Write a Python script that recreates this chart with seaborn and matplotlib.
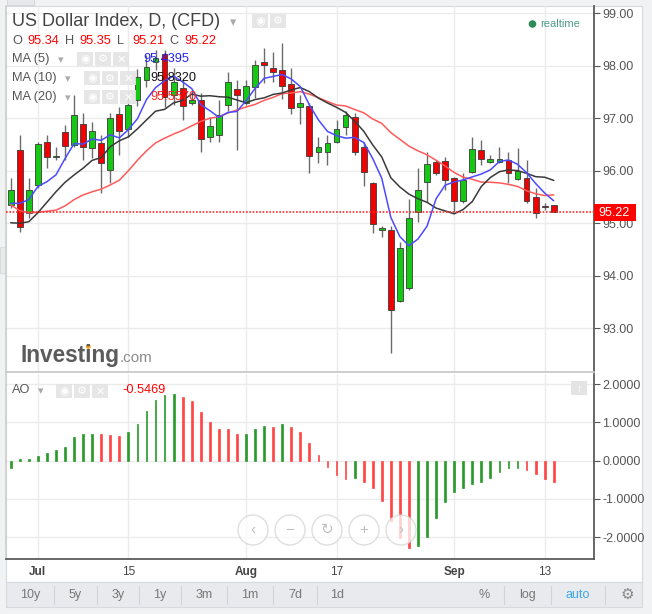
import numpy as np
import pandas as pd
import matplotlib
matplotlib.use("Agg")
import matplotlib.pyplot as plt
from matplotlib.patches import Rectangle, Circle
import seaborn as sns

sns.set_theme(style="white")
plt.rcParams["font.family"] = ["Liberation Sans", "DejaVu Sans"]
plt.rcParams["axes.unicode_minus"] = False

# %%
# --- values: US Dollar Index CFD, daily, late Jun -> mid Sep 2015 ---
opens = [95.35, 96.40, 95.19, 95.72, 96.55, 96.26, 96.74, 96.49, 96.89, 96.43,
         96.53, 96.02, 97.08, 96.79, 97.34, 97.73, 98.08, 98.22, 97.44, 97.57,
         97.30, 97.35, 96.65, 96.68, 97.25, 97.55, 97.29, 97.60, 98.08, 97.95,
         97.92, 97.65, 97.22, 97.23, 96.35, 96.35, 96.55, 96.83, 97.03, 96.46,
         95.77, 94.88, 94.87, 93.51, 93.76, 95.21, 95.78, 96.16, 96.18, 95.87,
         95.42, 95.98, 96.40, 96.17, 96.17, 96.21, 95.84, 95.87, 95.51, 95.33,
         95.34]
highs = [95.86, 96.68, 95.86, 96.55, 96.68, 96.46, 96.87, 97.44, 97.10, 96.93,
         96.68, 97.10, 97.21, 97.42, 97.93, 98.21, 98.30, 98.30, 97.95, 97.73,
         97.54, 97.48, 97.03, 97.35, 97.89, 97.73, 97.73, 98.11, 98.33, 98.27,
         98.43, 97.95, 97.44, 97.29, 96.65, 96.68, 96.97, 97.13, 97.10, 96.55,
         95.79, 94.94, 94.94, 94.65, 95.46, 96.05, 96.36, 96.21, 96.27, 95.89,
         95.95, 96.65, 96.59, 96.30, 96.46, 96.36, 96.43, 96.21, 95.67, 95.39,
         95.35]
lows = [95.29, 94.84, 95.10, 95.68, 96.05, 96.21, 96.21, 96.46, 96.21, 96.24,
        95.57, 95.76, 96.30, 96.65, 97.23, 97.60, 97.92, 97.22, 97.25, 96.97,
        97.25, 96.36, 96.55, 96.55, 97.13, 96.40, 97.25, 97.38, 97.67, 97.70,
        97.36, 97.08, 96.90, 95.95, 96.14, 96.11, 96.52, 96.68, 96.30, 95.71,
        94.81, 94.73, 92.52, 93.50, 93.73, 95.03, 95.41, 95.92, 95.63, 95.22,
        95.39, 95.95, 96.11, 96.15, 96.14, 95.76, 95.83, 95.38, 95.11, 95.25,
        95.21]
closes = [95.63, 94.92, 95.63, 96.51, 96.27, 96.28, 96.47, 97.06, 96.46, 96.76,
          96.15, 97.00, 96.76, 97.25, 97.79, 97.98, 98.14, 97.41, 97.70, 97.23,
          97.35, 96.60, 96.85, 97.06, 97.70, 97.44, 97.62, 98.02, 98.02, 97.89,
          97.62, 97.19, 97.30, 96.28, 96.46, 96.52, 96.79, 97.06, 96.35, 95.98,
          94.99, 94.90, 93.34, 94.52, 95.11, 95.63, 96.12, 95.95, 95.82, 95.42,
          95.82, 96.41, 96.22, 96.22, 96.22, 95.96, 96.00, 95.42, 95.19, 95.31,
          95.22]

# start of each MA line, where its window reaches back before the first candle
ma5_head = [95.38, 95.38, 95.45, 95.70]
ma10_head = [95.01, 95.00, 95.03, 95.20, 95.40, 95.60, 95.78, 95.92, 96.05]
ma20_head = [95.35, 95.24, 95.20, 95.21, 95.23, 95.25, 95.33, 95.45, 95.54, 95.60,
             95.65, 95.73, 95.82, 96.00, 96.20, 96.38, 96.53, 96.62, 96.70]

# awesome oscillator histogram
ao = [-0.20, 0.04, 0.04, 0.11, 0.19, 0.28, 0.37, 0.63, 0.71, 0.71,
      0.69, 0.68, 0.65, 0.74, 0.95, 1.30, 1.58, 1.71, 1.75, 1.66,
      1.56, 1.26, 1.00, 0.83, 0.82, 0.69, 0.71, 0.83, 0.91, 0.88,
      0.95, 0.89, 0.74, 0.45, 0.15, -0.17, -0.37, -0.49, -0.46, -0.55,
      -0.72, -1.04, -1.57, -2.01, -2.29, -2.22, -1.98, -1.50, -1.09, -0.83,
      -0.72, -0.60, -0.55, -0.46, -0.29, -0.20, -0.19, -0.24, -0.35, -0.49,
      -0.5469]

date_ticks = [3, 13, 26, 36, 49, 59]
date_labels = ["Jul", "15", "Aug", "17", "Sep", "13"]
price_ticks = [93, 94, 95, 96, 97, 98, 99]
ao_ticks = [-2, -1, 0, 1, 2]
ma_last = {"5": "95.4395", "10": "95.8320", "20": "95.5570"}

# %%
df = pd.DataFrame({"open": opens, "high": highs, "low": lows, "close": closes, "ao": ao})
df["i"] = np.arange(len(df))
for n, head in [(5, ma5_head), (10, ma10_head), (20, ma20_head)]:
    col = f"ma{n}"
    df[col] = df["close"].rolling(n).mean()
    df.loc[:len(head) - 1, col] = head

# %%
W, H = 652, 614
fig = plt.figure(figsize=(W / 100, H / 100), dpi=100, facecolor="#f1f2f4")


def px_rect(l, t, r, b):
    return [l / W, 1 - b / H, (r - l) / W, (b - t) / H]


bg = fig.add_axes([0, 0, 1, 1])
bg.set_xlim(0, W)
bg.set_ylim(H, 0)
bg.axis("off")
bg.add_patch(Rectangle((6, 6), 636, 576, fc="white", ec="#d6d9dd", lw=0.8))
bg.add_patch(Rectangle((6, 582), 636, 25, fc="#e8eaed", ec="#d6d9dd", lw=0.8))
bg.add_patch(Rectangle((0, 247), 6, 26, fc="#e9eaec", ec="#d6d9dd", lw=0.6))
bg.add_patch(Rectangle((7, -2), 27, 7, fc="#e6e8eb", ec="#d0d3d8", lw=0.6))

ax = fig.add_axes(px_rect(6, 6, 594, 372))
ax_ao = fig.add_axes(px_rect(6, 374, 594, 559))
for a in (ax, ax_ao):
    a.set_facecolor("none")

# --- candles ---
up = df["close"] >= df["open"]
body_lo = df[["open", "close"]].min(axis=1)
body_h = (df["close"] - df["open"]).abs().clip(lower=0.025)
ax.vlines(df["i"], df["low"], df["high"], color="#6b6b6b", lw=1, zorder=2)
ax.bar(df["i"], body_h, bottom=body_lo, width=0.64,
       color=np.where(up, "#14c814", "#f00000"), edgecolor="#3a3a3a",
       linewidth=0.6, zorder=3)

# --- moving averages ---
sns.lineplot(data=df, x="i", y="ma20", ax=ax, color="#ff5a5a", lw=1.1, zorder=4)
sns.lineplot(data=df, x="i", y="ma10", ax=ax, color="#3a3a3a", lw=1.1, zorder=4)
sns.lineplot(data=df, x="i", y="ma5", ax=ax, color="#4b4bff", lw=1.1, zorder=4)

ax.axhline(closes[-1], color="#ff2b2b", lw=1.2, ls=(0, (1, 1)), zorder=5)

# --- AO histogram ---
ao_up = df["ao"].diff().fillna(1) >= 0
ao_cols = np.where(ao_up, "#2a9a2a", "#ff4646")
ax_ao.bar(df["i"], df["ao"], width=0.2, color=ao_cols, edgecolor=ao_cols,
          linewidth=0.5, zorder=3)

# --- axes styling ---
for a in (ax, ax_ao):
    a.set_xlim(-0.52, 64.45)
    a.yaxis.tick_right()
    a.set_xticks(date_ticks)
    a.grid(True, color="#ebebeb", lw=1)
    a.set_axisbelow(True)
    a.tick_params(axis="y", right=True, length=4, width=0.8, color="#555555",
                  labelsize=9, labelcolor="#555555", pad=2)
    a.tick_params(axis="x", length=0)
    a.set_xlabel("")
    a.set_ylabel("")
    for s in a.spines.values():
        s.set_visible(False)
    a.spines["right"].set_visible(True)
    a.spines["right"].set_color("#555555")
    a.spines["left"].set_visible(True)
    a.spines["left"].set_color("#d0d0d0")

ax.set_ylim(92.167, 99.139)
ax.set_yticks(price_ticks)
ax.set_yticklabels([f"{v:.2f}" for v in price_ticks])
ax.tick_params(axis="x", labelbottom=False)
ax.spines["bottom"].set_visible(True)
ax.spines["bottom"].set_color("#c8c8c8")

ax_ao.set_ylim(-2.567, 2.264)
ax_ao.set_yticks(ao_ticks)
ax_ao.set_yticklabels([f"{v:.4f}" for v in ao_ticks])
ax_ao.set_xticklabels(date_labels)
ax_ao.tick_params(axis="x", labelsize=8.5, labelcolor="#444444", pad=5)
for lab in ax_ao.get_xticklabels():
    if not lab.get_text().isdigit():
        lab.set_fontweight("bold")
ax_ao.spines["bottom"].set_visible(True)
ax_ao.spines["bottom"].set_color("#555555")

# %%
# --- overlay: header texts, buttons, toolbar ---
ov = fig.add_axes([0, 0, 1, 1], zorder=10)
ov.set_xlim(0, W)
ov.set_ylim(H, 0)
ov.axis("off")
ov.set_facecolor("none")


def icons(x0, y0, glyphs, w=16, h=14):
    for k, g in enumerate(glyphs):
        x = x0 + k * (w + 2)
        ov.add_patch(Rectangle((x, y0), w, h, fc="#e4e4e4", ec="none", alpha=0.9))
        ov.text(x + w / 2, y0 + h / 2 + 0.5, g, color="white", fontsize=8,
                ha="center", va="center", fontweight="bold")


ov.add_patch(Rectangle((594, 204), 42, 17, fc="#ff0000", ec="none"))
ov.text(598, 212.5, f"{closes[-1]:.2f}", color="white", fontsize=9, va="center")

ov.text(12, 22, "US Dollar Index, D, (CFD)", fontsize=13, color="#444444", va="center")
ov.text(230, 23, "▾", fontsize=9, color="#aaaaaa", va="center")
icons(252, 14, ["◉", "⚙"])

x = 12
for letter, val in zip("OHLC", [opens[-1], highs[-1], lows[-1], closes[-1]]):
    ov.text(x, 41, letter, fontsize=9.2, color="#555555", va="center")
    ov.text(x + 15, 41, f"{val:.2f}", fontsize=9.2, color="#ff0000", va="center")
    x += 52.5

ma_rows = [("MA (5)", 59, 77, 143, "#2222ee", "5"),
           ("MA (10)", 78, 84, 150, "#111111", "10"),
           ("MA (20)", 97, 84, 150, "#ff2222", "20")]
for label, y, bx, vx, col, key in ma_rows:
    ov.text(12, y, label, fontsize=9.2, color="#555555", va="center")
    ov.text(bx - 19, y + 1, "▾", fontsize=8, color="#aaaaaa", va="center")
    icons(bx, y - 7, ["◉", "⚙", "✕"])
    ov.text(vx, y, ma_last[key], fontsize=9.2, color=col, va="center")

ov.add_patch(Circle((532.5, 24), 3.8, fc="#2e8b57", ec="none"))
ov.text(540, 24, "realtime", fontsize=8, color="#4f9a88", va="center")

# logo: measure the words so ".com" and the orange dot land in the right place
renderer = fig.canvas.get_renderer()
logo_kw = dict(fontsize=16.3, fontweight="bold", color="#5b5b5b", va="baseline")
logo = ov.text(20, 362, "Investing", **logo_kw)
logo_end = logo.get_window_extent(renderer).x1
probe = ov.text(20, 362, "Invest", **logo_kw)
i_left = probe.get_window_extent(renderer).x1
probe.set_text("Investi")
i_right = probe.get_window_extent(renderer).x1
probe.remove()
ov.text(logo_end + 0.5, 362, ".com", fontsize=11, color="#8a8a8a", va="baseline")
ov.add_patch(Circle(((i_left + i_right) / 2, 346.5), 2.4, fc="#f7a21b", ec="none"))

ov.text(12, 390, "AO", fontsize=9.2, color="#555555", va="center")
ov.text(38, 391, "▾", fontsize=8, color="#aaaaaa", va="center")
icons(56, 384, ["◉", "⚙", "✕"])
ov.text(122, 390, f"{ao[-1]:.4f}", fontsize=9.2, color="#ff0000", va="center")
ov.add_patch(Rectangle((571, 381), 16, 14, fc="#e4e4e4", ec="none"))
ov.text(579, 388, "↑", fontsize=8, color="white", ha="center", va="center", fontweight="bold")

for cx, g in zip([253, 290, 327, 364, 401], ["‹", "−", "↻", "+", "›"]):
    ov.add_patch(Circle((cx, 530), 15, fc="white", ec="#d4d4d4", lw=1, alpha=0.75))
    ov.text(cx, 530, g, fontsize=11, color="#c0c0c0", ha="center", va="center")

tool_items = [("10y", 30), ("5y", 75), ("3y", 118), ("1y", 160), ("3m", 204), ("1m", 250),
              ("7d", 295), ("1d", 337.5), ("%", 484), ("log", 527), ("auto", 578)]
for s, tx in tool_items:
    ov.text(tx, 595, s, fontsize=9, color="#3ea6e6" if s == "auto" else "#777777",
            ha="center", va="center")
ov.text(627, 595, "⚙", fontsize=11, color="#888888", ha="center", va="center")
for sx in [54, 97, 139, 181, 227, 273, 317, 504, 551, 605]:
    ov.plot([sx, sx], [586, 604], color="#d0d3d8", lw=0.8)

fig.savefig("out.png", dpi=100, facecolor=fig.get_facecolor())
